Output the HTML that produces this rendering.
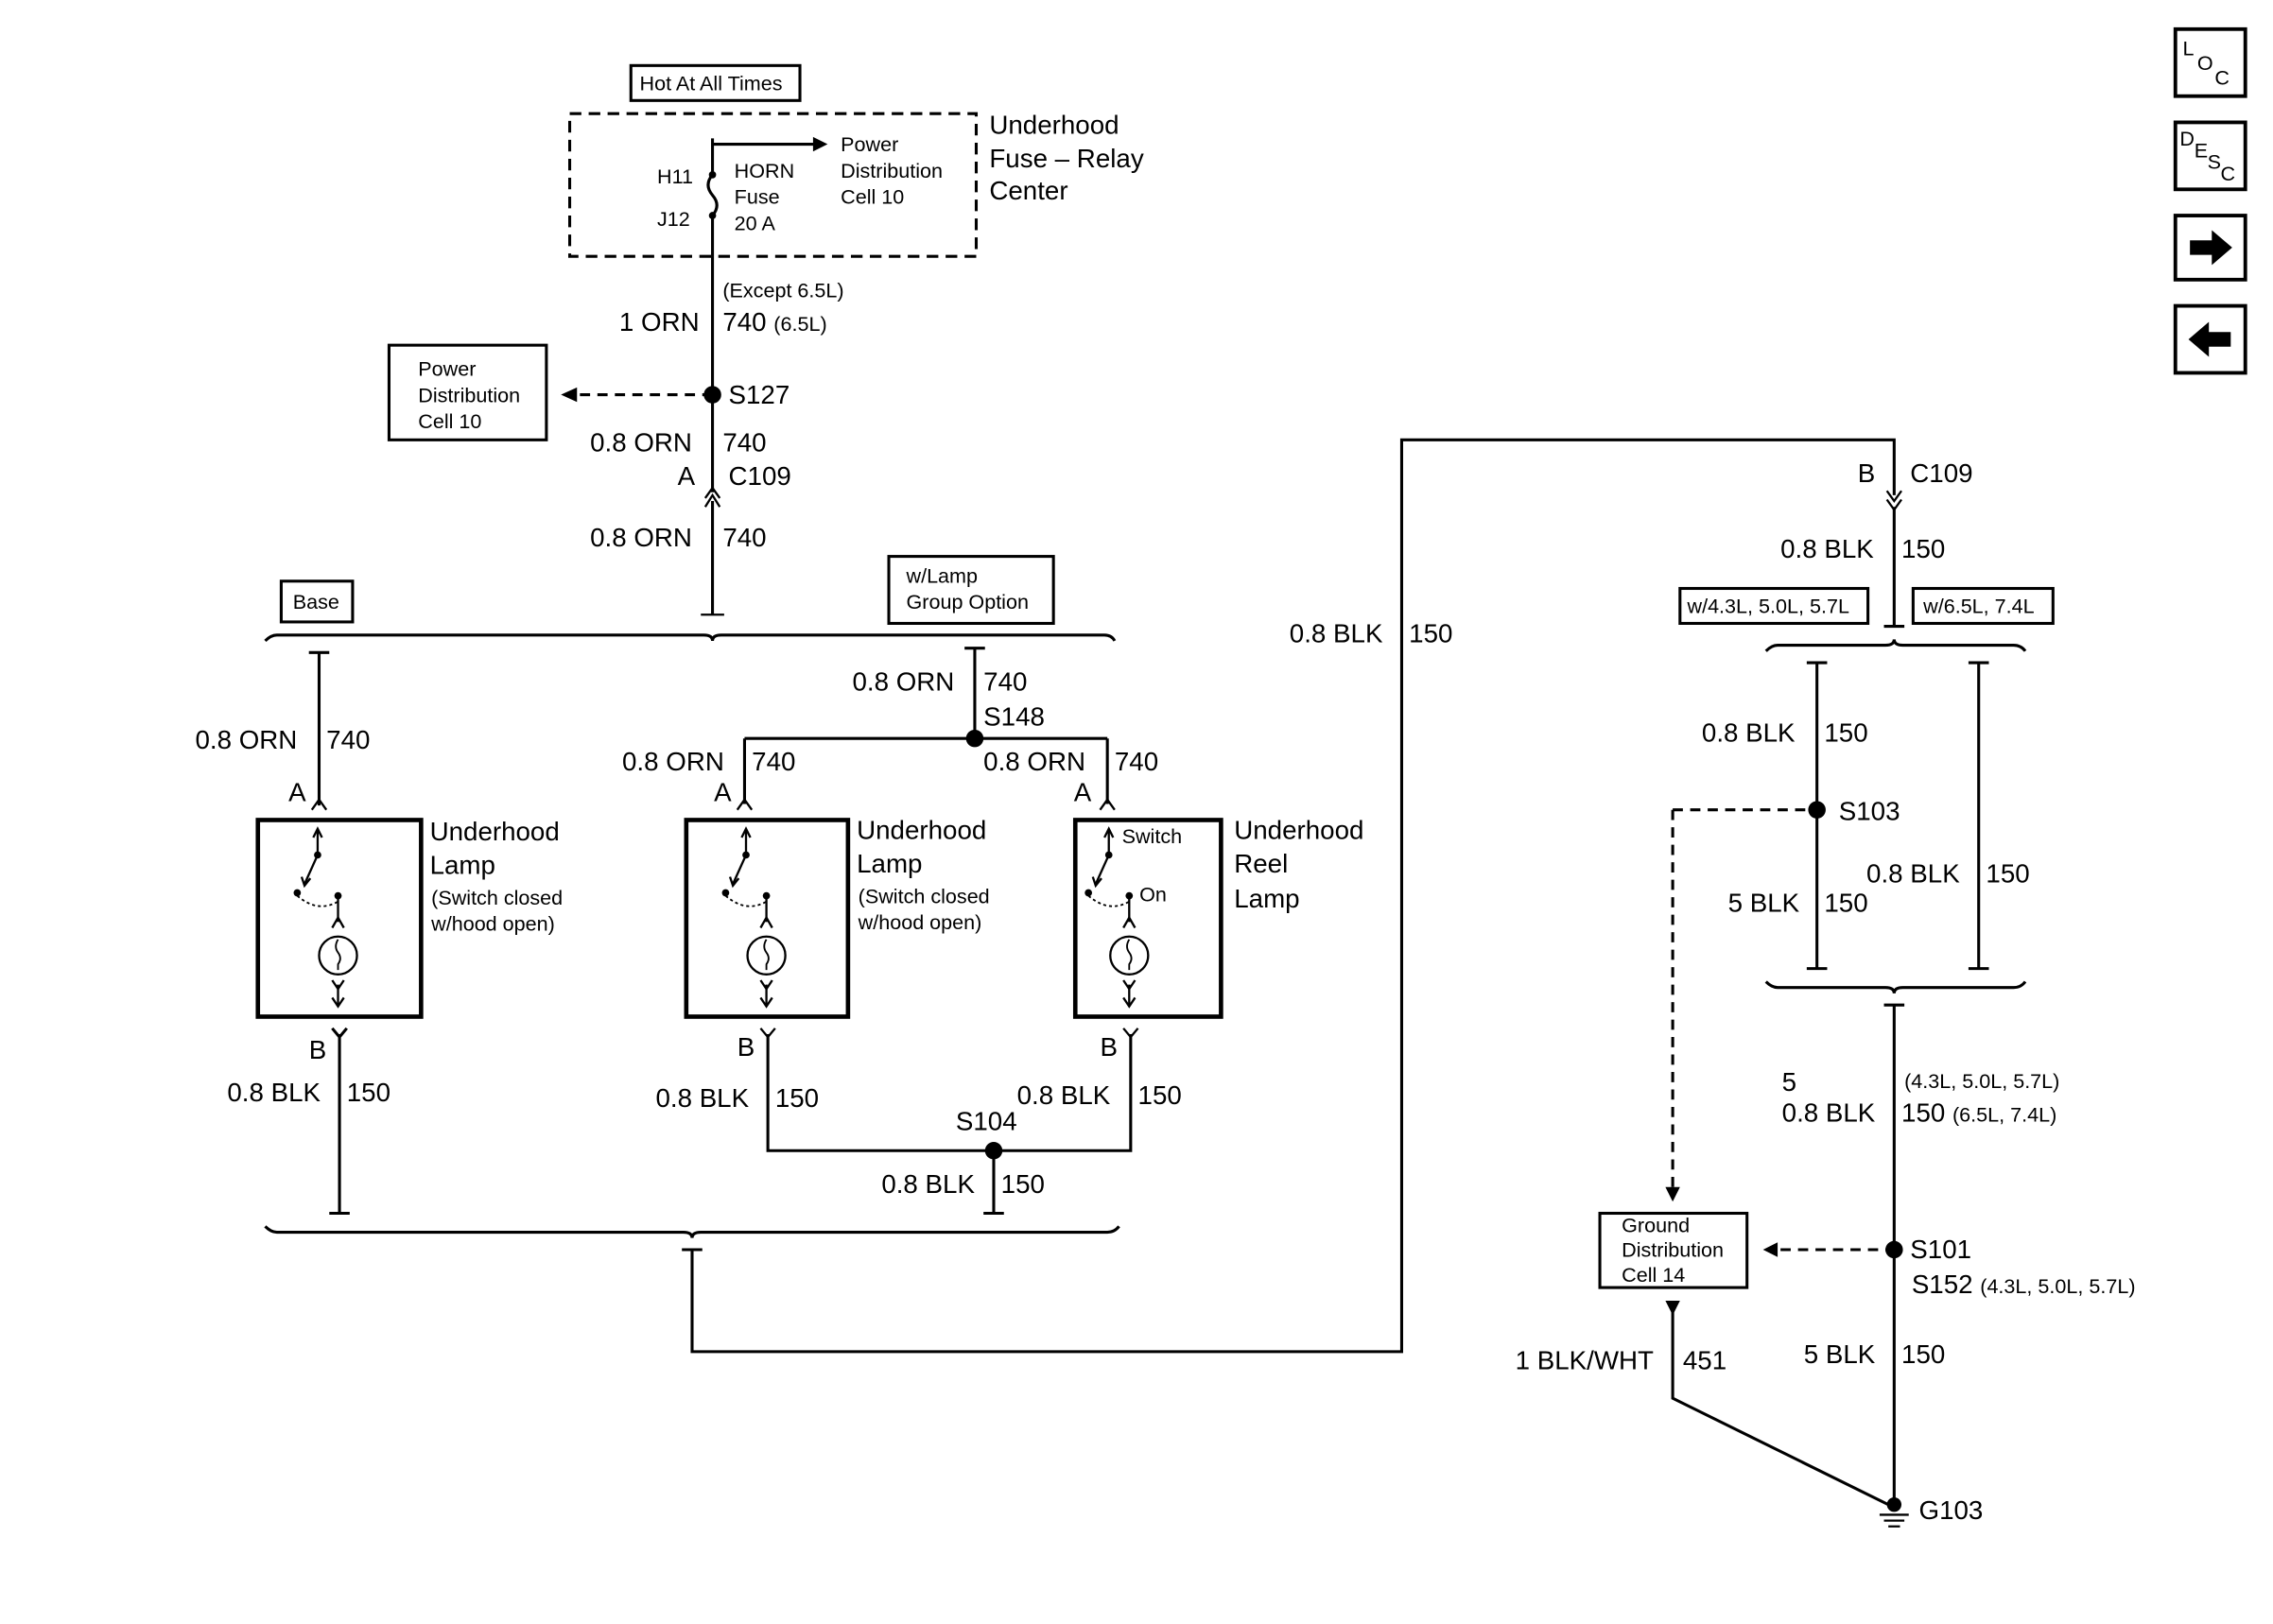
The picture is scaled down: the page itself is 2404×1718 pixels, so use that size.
<!DOCTYPE html>
<html><head><meta charset="utf-8"><style>
html,body{margin:0;padding:0;background:#fff;}
svg{display:block;}
text{font-family:"Liberation Sans",Arial,sans-serif;fill:#000;}
.l{font-size:18px;}
.s{font-size:14px;}
.xs{font-size:12px;}
</style></head><body>
<svg width="2404" height="1718" viewBox="0 0 1560 1115" preserveAspectRatio="none" xmlns="http://www.w3.org/2000/svg">
<defs>
<g id="lamp">
 <!-- internal lamp symbol centered at x=0, top y=0 -->
 <line x1="0" y1="6" x2="0" y2="26" stroke="#000" stroke-width="1.5"/>
 <path d="M-3,12 L0,6 L3,12" fill="none" stroke="#000" stroke-width="1.5"/>
 <circle cx="0" cy="24" r="2.5"/>
 <line x1="0" y1="24" x2="-9" y2="44" stroke="#000" stroke-width="1.5"/>
 <path d="M-11,39 L-9,45 L-5,40" fill="none" stroke="#000" stroke-width="1.5"/>
 <circle cx="-14" cy="50" r="2.5"/>
 <circle cx="14" cy="52" r="2.5"/>
 <path d="M-14,52 Q0,64 14,56" fill="none" stroke="#000" stroke-width="1.2" stroke-dasharray="2,2"/>
 <line x1="14" y1="52" x2="14" y2="70" stroke="#000" stroke-width="1.5"/>
 <path d="M10,74 L14,67 L18,74" fill="none" stroke="#000" stroke-width="1.5"/>
 <circle cx="14" cy="93" r="13" fill="none" stroke="#000" stroke-width="1.5"/>
 <path d="M14,82 q-3,5 0,9 q3,4 0,8 v4" fill="none" stroke="#000" stroke-width="1.2"/>
 <path d="M10,110 L14,116 L18,110" fill="none" stroke="#000" stroke-width="1.5"/>
 <line x1="14" y1="113" x2="14" y2="128" stroke="#000" stroke-width="1.5"/>
 <path d="M10,122 L14,128 L18,122" fill="none" stroke="#000" stroke-width="1.5"/>
</g>
</defs>
<g stroke="#000" stroke-width="2" fill="none">
 <!-- top -->
 <rect x="433" y="45" width="116" height="24"/>
 <rect x="391" y="78" width="279" height="98" stroke-dasharray="8,5"/>
 <line x1="489" y1="95" x2="489" y2="120"/>
 <path d="M489,120 q-6,7 0,14 q6,7 0,14"/>
 <line x1="489" y1="148" x2="489" y2="338"/>
 <line x1="489" y1="99" x2="560" y2="99"/>
 <line x1="489" y1="344" x2="489" y2="422"/>
 <path d="M484,348 L489,340 L494,348 M484,342 L489,335 L494,342" stroke-width="1.5"/>
 <path d="M481,422 h16" stroke-width="1.5"/>
 <line x1="398" y1="271" x2="489" y2="271" stroke-dasharray="7,5"/>
 <rect x="267" y="237" width="108" height="65"/>
 <rect x="193" y="399" width="49" height="28"/>
 <rect x="610" y="382" width="113" height="46"/>
 <!-- bracket top -->
 <path d="M182,440 q4,-4 8,-4 H483 q6,0 6,4 q0,-4 6,-4 H758 q5,0 7,4"/>
 <!-- left branch -->
 <path d="M212,448 h14 M219,448 V553"/>
 <path d="M214,556 L219,549 L224,556" stroke-width="1.5"/>
 <rect x="177" y="563" width="112" height="135" stroke-width="3"/>
 <path d="M226,708 h-14 M219,708 V709" stroke-width="0"/>
 <path d="M228,706 L233,712 L238,706 M233,710 V833 M226,833 h14"/>
 <!-- middle -->
 <path d="M662,445 h14 M669,445 V507 M511,507 H760 M511,507 V552 M760,507 V552"/>
 <path d="M506,556 L511,549 L516,556 M755,556 L760,549 L765,556" stroke-width="1.5"/>
 <rect x="471" y="563" width="111" height="135" stroke-width="3"/>
 <rect x="738" y="563" width="100" height="135" stroke-width="3"/>
 <path d="M522,706 L527,712 L532,706 M771,706 L776,712 L781,706" stroke-width="1.5"/>
 <path d="M527,710 V790 H776 V710 M682,790 V833 M675,833 h14"/>
 <!-- bottom bracket -->
 <path d="M182,842 q4,4 8,4 H469 q6,0 6,4 q0,-4 6,-4 H760 q5,0 8,-4"/>
 <path d="M468,858 h14 M475,858 V928 H962 V302 H1300 V340"/>
 <path d="M1295,337 L1300,344 L1305,337 M1295,343 L1300,350 L1305,343" stroke-width="1.5"/>
 <path d="M1300,348 V430 M1293,430 h14"/>
 <rect x="1153" y="404" width="129" height="24"/>
 <rect x="1313" y="404" width="96" height="24"/>
 <path d="M1212,447 q4,-4 8,-4 H1294 q6,0 6,-4 q0,4 6,4 H1382 q5,0 8,4"/>
 <path d="M1240,455 h14 M1247,455 V665 M1240,665 h14 M1351,455 h14 M1358,455 V665 M1351,665 h14"/>
 <path d="M1148,556 H1247 M1148,556 V818" stroke-dasharray="7,5"/>
 <path d="M1212,674 q4,4 8,4 H1294 q6,0 6,4 q0,-4 6,-4 H1382 q5,0 8,-4"/>
 <path d="M1293,690 h14 M1300,690 V1032"/>
 <path d="M1222,858 H1300" stroke-dasharray="7,5"/>
 <rect x="1098" y="833" width="101" height="51"/>
 <path d="M1148,898 V960 L1300,1035"/>
 <path d="M1290,1040 h20 M1293,1044 h14 M1296,1048 h8" stroke-width="1.5"/>
 <!-- right icons -->
 <rect x="1493" y="20" width="48" height="46" stroke-width="2.5"/>
 <rect x="1493" y="84" width="48" height="46" stroke-width="2.5"/>
 <rect x="1493" y="148" width="48" height="44" stroke-width="2.5"/>
 <rect x="1493" y="210" width="48" height="46" stroke-width="2.5"/>
</g>
<!-- filled bits -->
<polygon points="568,99 558,94 558,104"/>
<polygon points="385,271 396,266 396,276"/>
<circle cx="489" cy="271" r="6"/>
<circle cx="669" cy="507" r="6"/>
<circle cx="682" cy="790" r="6"/>
<circle cx="1247" cy="556" r="6"/>
<circle cx="1300" cy="858" r="6"/>
<circle cx="1300" cy="1033" r="5"/>
<circle cx="489" cy="120" r="2.5"/><circle cx="489" cy="148" r="2.5"/>
<polygon points="1148,825 1143,815 1153,815"/>
<polygon points="1210,858 1220,853 1220,863"/>
<polygon points="1148,903 1143,893 1153,893"/>
<polygon points="1503,165 1518,165 1518,158 1532,170 1518,182 1518,175 1503,175"/>
<polygon points="1531,228 1516,228 1516,221 1502,233 1516,245 1516,238 1531,238"/>
<use href="#lamp" x="218" y="563"/>
<use href="#lamp" x="512" y="563"/>
<use href="#lamp" x="761" y="563"/>
<!-- text -->
<text class="s" x="439" y="62">Hot At All Times</text>
<text class="l" x="679" y="92">Underhood</text>
<text class="l" x="679" y="115">Fuse – Relay</text>
<text class="l" x="679" y="137">Center</text>
<text class="s" x="577" y="104">Power</text>
<text class="s" x="577" y="122">Distribution</text>
<text class="s" x="577" y="140">Cell 10</text>
<text class="s" x="504" y="122">HORN</text>
<text class="s" x="504" y="140">Fuse</text>
<text class="s" x="504" y="158">20 A</text>
<text class="s" x="451" y="126">H11</text>
<text class="s" x="451" y="155">J12</text>
<text class="s" x="496" y="204">(Except 6.5L)</text>
<text class="l" x="425" y="227">1 ORN</text>
<text class="l" x="496" y="227">740 <tspan class="s">(6.5L)</tspan></text>
<text class="s" x="287" y="258">Power</text>
<text class="s" x="287" y="276">Distribution</text>
<text class="s" x="287" y="294">Cell 10</text>
<text class="l" x="500" y="277">S127</text>
<text class="l" x="405" y="310">0.8 ORN</text><text class="l" x="496" y="310">740</text>
<text class="l" x="465" y="333">A</text><text class="l" x="500" y="333">C109</text>
<text class="l" x="405" y="375">0.8 ORN</text><text class="l" x="496" y="375">740</text>
<text class="s" x="201" y="418">Base</text>
<text class="s" x="622" y="400">w/Lamp</text>
<text class="s" x="622" y="418">Group Option</text>
<text class="l" x="134" y="514">0.8 ORN</text><text class="l" x="224" y="514">740</text>
<text class="l" x="198" y="550">A</text>
<text class="l" x="585" y="474">0.8 ORN</text><text class="l" x="675" y="474">740</text>
<text class="l" x="675" y="498">S148</text>
<text class="l" x="427" y="529">0.8 ORN</text><text class="l" x="516" y="529">740</text>
<text class="l" x="675" y="529">0.8 ORN</text><text class="l" x="765" y="529">740</text>
<text class="l" x="490" y="550">A</text><text class="l" x="737" y="550">A</text>
<text class="l" x="295" y="577">Underhood</text><text class="l" x="295" y="600">Lamp</text>
<text class="s" x="296" y="621">(Switch closed</text><text class="s" x="296" y="639">w/hood open)</text>
<text class="l" x="588" y="576">Underhood</text><text class="l" x="588" y="599">Lamp</text>
<text class="s" x="589" y="620">(Switch closed</text><text class="s" x="589" y="638">w/hood open)</text>
<text class="l" x="847" y="576">Underhood</text><text class="l" x="847" y="599">Reel</text><text class="l" x="847" y="623">Lamp</text>
<text class="s" x="770" y="579">Switch</text><text class="s" x="782" y="619">On</text>
<text class="l" x="212" y="727">B</text><text class="l" x="506" y="725">B</text><text class="l" x="755" y="725">B</text>
<text class="l" x="156" y="756">0.8 BLK</text><text class="l" x="238" y="756">150</text>
<text class="l" x="450" y="760">0.8 BLK</text><text class="l" x="532" y="760">150</text>
<text class="l" x="698" y="758">0.8 BLK</text><text class="l" x="781" y="758">150</text>
<text class="l" x="656" y="776">S104</text>
<text class="l" x="605" y="819">0.8 BLK</text><text class="l" x="687" y="819">150</text>
<text class="l" x="885" y="441">0.8 BLK</text><text class="l" x="967" y="441">150</text>
<text class="l" x="1275" y="331">B</text><text class="l" x="1311" y="331">C109</text>
<text class="l" x="1222" y="383">0.8 BLK</text><text class="l" x="1305" y="383">150</text>
<text class="s" x="1158" y="421">w/4.3L, 5.0L, 5.7L</text>
<text class="s" x="1320" y="421">w/6.5L, 7.4L</text>
<text class="l" x="1168" y="509">0.8 BLK</text><text class="l" x="1252" y="509">150</text>
<text class="l" x="1262" y="563">S103</text>
<text class="l" x="1186" y="626">5 BLK</text><text class="l" x="1252" y="626">150</text>
<text class="l" x="1281" y="606">0.8 BLK</text><text class="l" x="1363" y="606">150</text>
<text class="l" x="1223" y="749">5</text>
<text class="s" x="1307" y="747">(4.3L, 5.0L, 5.7L)</text>
<text class="l" x="1223" y="770">0.8 BLK</text><text class="l" x="1305" y="770">150 <tspan class="s">(6.5L, 7.4L)</tspan></text>
<text class="s" x="1113" y="846">Ground</text>
<text class="s" x="1113" y="863">Distribution</text>
<text class="s" x="1113" y="880">Cell 14</text>
<text class="l" x="1311" y="864">S101</text>
<text class="l" x="1312" y="888">S152 <tspan class="s">(4.3L, 5.0L, 5.7L)</tspan></text>
<text class="l" x="1040" y="940">1 BLK/WHT</text><text class="l" x="1155" y="940">451</text>
<text class="l" x="1238" y="936">5 BLK</text><text class="l" x="1305" y="936">150</text>
<text class="l" x="1317" y="1043">G103</text>
<text class="s" x="1498" y="38">L</text><text class="s" x="1508" y="48">O</text><text class="s" x="1520" y="58">C</text>
<text class="s" x="1496" y="100">D</text><text class="s" x="1506" y="108">E</text><text class="s" x="1515" y="116">S</text><text class="s" x="1524" y="124">C</text>
</svg>
</body></html>
